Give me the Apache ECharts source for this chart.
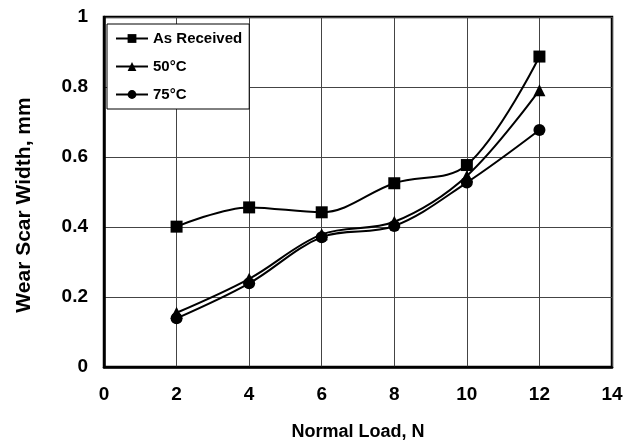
<!DOCTYPE html>
<html><head><meta charset="utf-8">
<script src="https://cdn.jsdelivr.net/npm/echarts@6/dist/echarts.min.js"></script>
<style>html,body{margin:0;padding:0;background:#fff}#c{width:633px;height:441px}</style>
</head><body><div id="c"></div>
<script>
const loads = [2, 4, 6, 8, 10, 12];
const asReceived = [0.401, 0.456, 0.442, 0.525, 0.577, 0.887];
const c50 = [0.155, 0.252, 0.379, 0.415, 0.546, 0.791];
const c75 = [0.139, 0.239, 0.371, 0.403, 0.527, 0.677];
const seriesNames = ['As Received', '50°C', '75°C'];
const xTitle = 'Normal Load, N';
const yTitle = 'Wear Scar Width, mm';

const chart = echarts.init(document.getElementById('c'));
const font = 'Liberation Sans, Arial, sans-serif';
function mk(name, vals, sym, size) {
  return {
    name, type: 'line', smooth: 0.35,
    data: loads.map((x, i) => [x, vals[i]]),
    symbol: sym, symbolSize: size,
    lineStyle: {color: '#000', width: 2},
    itemStyle: {color: '#000'},
    z: 5
  };
}
chart.setOption({
  animation: false,
  backgroundColor: '#fff',
  grid: {left: 104, right: 21, top: 17, bottom: 74, show: true, borderColor: '#000', borderWidth: 2.5,
    containLabel: false, outerBoundsMode: 'none'},
  legend: {
    left: 107, top: 24, orient: 'vertical', itemGap: 13,
    padding: [7, 7, 7, 8],
    backgroundColor: '#fff', borderColor: '#000', borderWidth: 1,
    itemWidth: 32, itemHeight: 11,
    textStyle: {fontFamily: font, fontSize: 15, fontWeight: 'bold', color: '#000'},
    data: seriesNames
  },
  xAxis: {
    type: 'value', min: 0, max: 14, interval: 2,
    name: xTitle, nameLocation: 'middle', nameGap: 56,
    nameTextStyle: {fontFamily: font, fontSize: 18, fontWeight: 'bold', color: '#000'},
    axisLine: {show: true, lineStyle: {color: '#000', width: 2.5}},
    axisTick: {show: false},
    axisLabel: {fontFamily: font, fontSize: 19, fontWeight: 'bold', color: '#000', margin: 18},
    splitLine: {show: true, lineStyle: {color: '#444', width: 1}}
  },
  yAxis: {
    type: 'value', min: 0, max: 1, interval: 0.2,
    name: yTitle, nameLocation: 'middle', nameGap: 69, nameRotate: 90,
    nameTextStyle: {fontFamily: font, fontSize: 21, fontWeight: 'bold', color: '#000', padding: [0, 26, 0, 0]},
    axisLine: {show: true, lineStyle: {color: '#000', width: 2.5}},
    axisTick: {show: false},
    axisLabel: {fontFamily: font, fontSize: 19, fontWeight: 'bold', color: '#000', margin: 16,
      formatter: v => (v === 0 || v === 1) ? String(v) : v.toFixed(1)},
    splitLine: {show: true, lineStyle: {color: '#444', width: 1}}
  },
  series: [
    mk(seriesNames[0], asReceived, 'rect', 12),
    mk(seriesNames[1], c50, 'triangle', 12),
    mk(seriesNames[2], c75, 'circle', 12)
  ]
});
</script></body></html>
